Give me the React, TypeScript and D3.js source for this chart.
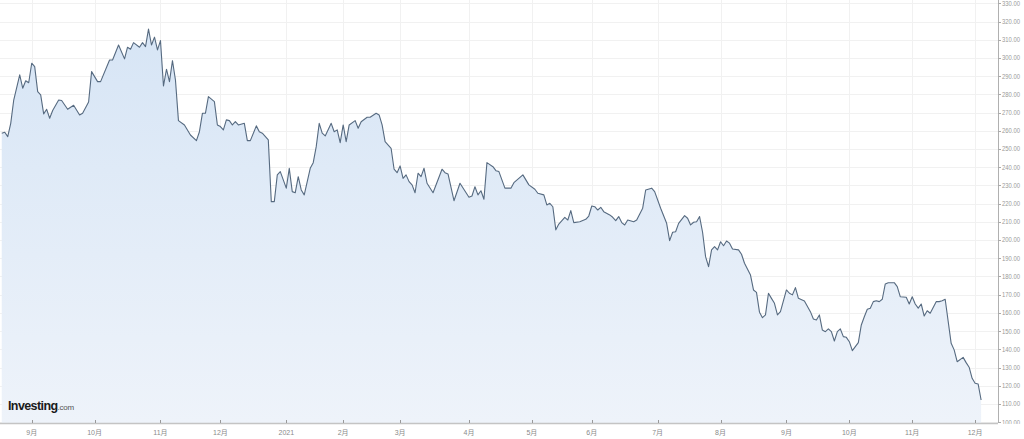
import React from 'react';
import * as d3 from 'd3';

// trading-day index (0 = first session shown) and closing value
const dayIndex = [
  0, 1, 2, 3, 4, 6, 7, 8, 9, 10, 11, 12, 13, 14, 15, 16, 17, 19, 20, 22, 24, 26, 27, 29, 30, 32, 33, 36, 37, 39,
  41, 42, 43, 44, 46, 47, 48, 49, 50, 51, 52, 53, 54, 55, 56, 57, 58, 59, 61, 63, 65, 66, 67, 68, 69, 71, 72, 73, 74, 75,
  76, 77, 78, 79, 81, 82, 83, 85, 86, 87, 89, 90, 91, 92, 93, 95, 96, 97, 98, 99, 100, 101, 103, 104, 105, 106, 107, 108, 110, 111,
  112, 113, 114, 115, 116, 118, 119, 120, 122, 123, 125, 126, 127, 128, 130, 131, 132, 133, 134, 135, 136, 137, 138, 139, 140, 141, 142, 144, 147, 148,
  149, 151, 153, 156, 157, 158, 159, 160, 161, 162, 164, 165, 166, 168, 170, 171, 174, 176, 178, 179, 181, 182, 183, 184, 185, 186, 188, 189, 190, 191,
  193, 195, 196, 197, 198, 199, 200, 201, 203, 204, 205, 206, 207, 208, 209, 211, 212, 214, 215, 217, 218, 220, 222, 223, 224, 225, 226, 228, 229, 230,
  231, 232, 233, 234, 235, 236, 237, 238, 239, 240, 241, 242, 243, 244, 246, 247, 248, 250, 251, 252, 253, 254, 255, 256, 257, 258, 259, 260, 262, 263,
  264, 265, 266, 268, 270, 271, 272, 273, 274, 275, 276, 277, 278, 279, 280, 281, 282, 283, 284, 285, 286, 287, 288, 289, 290, 291, 292, 293, 294, 295,
  296, 298, 299, 300, 302, 303, 304, 305, 306, 307, 308, 309, 310, 312, 313, 314, 315, 317, 318, 319, 321, 322, 323, 324, 325, 326, 327,
];
const price = [
  258.7, 259.2, 256.8, 264.1, 276.9, 290.7, 283.4, 287.5, 286.4, 297.1, 295.2, 281.5, 279.7, 269.3, 271.8, 266.9, 271.1, 276.9, 276.6, 271.8, 274.0, 268.7, 269.6, 275.8, 292.5, 287.0, 287.0, 298.9, 298.9, 307.1,
  299.5, 305.9, 304.8, 308.4, 305.9, 308.4, 306.2, 315.8, 307.1, 311.4, 304.4, 309.5, 284.6, 293.8, 287.0, 298.5, 287.9, 265.6, 263.2, 257.7, 254.6, 259.5, 269.6, 269.6, 278.8, 276.0, 263.2, 262.3, 260.5, 266.0,
  265.6, 263.2, 265.0, 263.2, 264.1, 254.6, 254.6, 262.7, 259.5, 258.7, 255.0, 221.1, 221.1, 235.8, 237.6, 228.5, 239.4, 226.6, 226.0, 234.8, 227.5, 224.8, 239.4, 242.5, 251.3, 264.1, 258.7, 257.2, 264.1, 259.5,
  260.5, 253.5, 263.2, 254.0, 263.2, 265.6, 261.4, 265.0, 267.4, 267.4, 269.6, 268.7, 263.2, 254.0, 250.4, 238.9, 237.0, 240.7, 233.9, 235.8, 232.1, 230.3, 226.0, 236.7, 234.8, 239.4, 231.2, 226.0, 238.9, 237.0,
  236.3, 221.6, 231.2, 223.5, 224.2, 229.3, 224.8, 227.1, 222.4, 242.5, 240.3, 238.1, 237.6, 228.5, 228.5, 231.5, 235.8, 230.3, 227.9, 225.7, 224.8, 219.3, 220.2, 218.3, 205.6, 208.8, 212.5, 211.0, 216.2, 209.6,
  210.1, 211.4, 213.2, 218.7, 218.3, 216.5, 218.0, 215.6, 213.8, 212.5, 210.7, 212.9, 209.6, 208.3, 211.0, 210.1, 211.0, 217.5, 227.5, 228.5, 226.6, 217.5, 209.2, 199.7, 204.3, 204.6, 209.2, 213.4, 212.0, 208.3,
  209.8, 210.1, 212.9, 204.3, 190.9, 185.4, 194.6, 196.4, 194.6, 199.1, 196.9, 199.5, 198.3, 195.1, 194.6, 192.2, 187.3, 180.8, 172.6, 171.3, 160.4, 157.4, 158.9, 170.8, 168.0, 165.3, 158.9, 160.7, 172.6, 170.8,
  169.9, 173.9, 168.0, 166.6, 160.7, 156.7, 156.1, 158.9, 150.6, 149.7, 151.2, 149.7, 144.6, 149.7, 151.2, 147.0, 146.6, 144.2, 139.3, 141.5, 143.7, 153.4, 157.9, 162.0, 162.6, 166.2, 166.7, 166.2, 167.5, 175.9,
  176.6, 176.6, 174.4, 168.9, 168.6, 164.9, 168.9, 164.9, 162.6, 164.9, 158.3, 161.2, 159.8, 166.2, 166.2, 166.7, 167.5, 143.3, 139.7, 133.2, 135.6, 132.7, 130.2, 124.1, 121.4, 121.0, 112.2,
];

const monthTickDays = [10, 31, 53, 73, 95, 114, 133, 156, 177, 197, 219, 240, 262, 283, 304, 325];
const monthTickLabels = ['9月', '10月', '11月', '12月', '2021', '2月', '3月', '4月', '5月', '6月', '7月', '8月', '9月', '10月', '11月', '12月'];
const yTickValues = [100, 110, 120, 130, 140, 150, 160, 170, 180, 190, 200, 210, 220, 230, 240, 250, 260, 270, 280, 290, 300, 310, 320, 330];

const W = 1024;
const H = 439;
const AXIS_X = 998;
const AXIS_Y = 423;
const FONT = "'Liberation Sans', Arial, 'Noto Sans CJK SC', sans-serif";

export default function App() {
  const x = d3.scaleLinear().domain([0, 325]).range([1.75, 1.75 + 325 * 2.995]);
  const y = d3.scaleLinear().domain([100, 330]).range([422.2, 3.3]);
  const data = dayIndex.map((d, i) => ({ d, v: price[i] }));
  const line = d3.line<{ d: number; v: number }>().x((p) => x(p.d)).y((p) => y(p.v));
  const area = d3
    .area<{ d: number; v: number }>()
    .x((p) => x(p.d))
    .y0(AXIS_Y)
    .y1((p) => y(p.v));
  const fmt = d3.format('.2f');

  return (
    <svg
      width={W}
      height={H}
      style={{ position: 'absolute', left: 0, top: 0, background: '#fff' }}
      fontFamily={FONT}
    >
      <defs>
        <linearGradient id="fillGrad" gradientUnits="userSpaceOnUse" x1="0" y1="0" x2="0" y2={AXIS_Y}>
          <stop offset="0" stopColor="#d5e4f5" />
          <stop offset="1" stopColor="#eef3fa" />
        </linearGradient>
        <clipPath id="yLabelClip">
          <rect x={AXIS_X} y={0} width={W - AXIS_X} height={AXIS_Y + 1} />
        </clipPath>
      </defs>
      <rect x={0} y={0} width={W} height={H} fill="#fff" />
      {/* gridlines */}
      <g stroke="#f1f1f1" strokeWidth={1}>
        {yTickValues.map((v) => (
          <line key={'h' + v} x1={0} x2={AXIS_X} y1={Math.round(y(v)) + 0.5} y2={Math.round(y(v)) + 0.5} />
        ))}
        {monthTickDays.map((d, i) => (
          <line key={'v' + i} x1={Math.round(x(d)) + 0.5} x2={Math.round(x(d)) + 0.5} y1={0} y2={AXIS_Y} />
        ))}
      </g>
      {/* area + line */}
      <path d={area(data) || ''} fill="url(#fillGrad)" />
      <path d={line(data) || ''} fill="none" stroke="#566a80" strokeWidth={1.1} strokeLinejoin="round" />
      {/* x axis */}
      <line x1={0} x2={AXIS_X} y1={AXIS_Y + 0.5} y2={AXIS_Y + 0.5} stroke="#c4c4c4" strokeWidth={1.5} />
      {monthTickDays.map((d, i) => (
        <g key={'xt' + i}>
          <line x1={Math.round(x(d)) + 0.5} x2={Math.round(x(d)) + 0.5} y1={AXIS_Y - 3} y2={AXIS_Y} stroke="#999" />
          <text x={x(d)} y={435} textAnchor="middle" fontSize={7} fill="#8a8a8a">
            {monthTickLabels[i]}
          </text>
        </g>
      ))}
      {/* y axis */}
      <line x1={AXIS_X + 0.5} x2={AXIS_X + 0.5} y1={0} y2={AXIS_Y} stroke="#b0b0b0" strokeWidth={1} />
      <g clipPath="url(#yLabelClip)">
        {yTickValues.map((v) => (
          <g key={'yt' + v}>
            <line x1={AXIS_X} x2={AXIS_X + 3} y1={Math.round(y(v)) + 0.5} y2={Math.round(y(v)) + 0.5} stroke="#aaa" />
            <text
              x={AXIS_X + 4}
              y={y(v) + 2.4}
              fontSize={6.6}
              fill="#9a9a9a"
              textLength={18}
              lengthAdjust="spacingAndGlyphs"
            >
              {fmt(v)}
            </text>
          </g>
        ))}
      </g>
      {/* logo */}
      <text x={8} y={410} fontSize={12.5} fontWeight="bold" fill="#1a1a1a" letterSpacing={-0.6} fontFamily="'Liberation Sans', Arial, sans-serif">
        Investing
        <tspan fontSize={8} fontWeight="normal" fill="#555" letterSpacing={-0.2}>.com</tspan>
      </text>
    </svg>
  );
}
